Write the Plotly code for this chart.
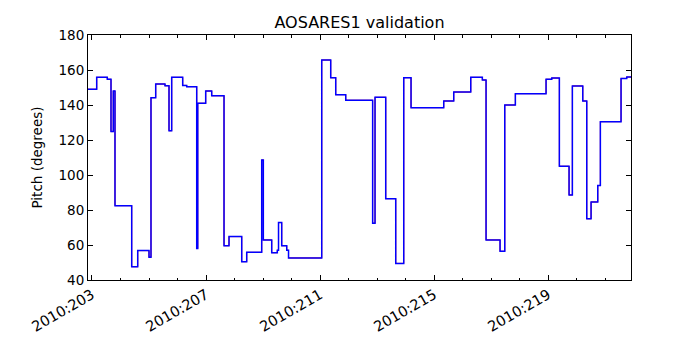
import plotly.graph_objects as go

# Day-of-year (2010) at which each pitch level starts
day = [202.86, 203.165, 203.537, 203.667, 203.747, 203.807, 204.393, 204.604,
       205.0, 205.070, 205.235, 205.561, 205.702, 205.796, 206.182, 206.323,
       206.674, 206.710, 206.989, 207.2, 207.632, 207.807, 208.253, 208.428,
       208.954, 209.011, 209.305, 209.502, 209.544, 209.656, 209.832, 209.895,
       211.060, 211.375, 211.551, 211.902, 212.846, 212.930, 213.305, 213.656,
       213.937, 214.193, 215.340, 215.691, 216.288, 216.695, 216.825, 217.316,
       217.481, 217.853, 218.930, 219.130, 219.397, 219.737, 219.853, 220.218,
       220.358, 220.509, 220.744, 220.835, 221.561, 221.761, 221.912]

# Measured pitch (blue)
pitch_blue = [149, 155.8, 154.7, 124.8, 148, 82.5, 47.6, 56.8,
              53, 144.2, 152, 151, 125.3, 155.8, 151.2, 150.5,
              58, 141, 148, 145.3, 59.6, 64.8, 50.5, 55.8,
              108.6, 62.9, 55.6, 57, 72.8, 59.6, 57, 52.6,
              165.7, 155.6, 145.9, 142.7, 72.4, 144.4, 86.5, 49.5,
              155.6, 138.5, 142.3, 147.4, 155.8, 154.3, 62.9, 56.4,
              140, 146.5, 154.7, 155.4, 105, 88.6, 150.9, 142.3,
              75, 84.6, 94, 130.5, 155.2, 156, 156]

# Reference pitch (red) - visually identical to the blue trace
pitch_red = [149, 155.8, 154.7, 124.8, 148, 82.5, 47.6, 56.8,
             53, 144.2, 152, 151, 125.3, 155.8, 151.2, 150.5,
             58, 141, 148, 145.3, 59.6, 64.8, 50.5, 55.8,
             108.6, 62.9, 55.6, 57, 72.8, 59.6, 57, 52.6,
             165.7, 155.6, 145.9, 142.7, 72.4, 144.4, 86.5, 49.5,
             155.6, 138.5, 142.3, 147.4, 155.8, 154.3, 62.9, 56.4,
             140, 146.5, 154.7, 155.4, 105, 88.6, 150.9, 142.3,
             75, 84.6, 94, 130.5, 155.2, 156, 156]

tick_vals = [203, 207, 211, 215, 219]
tick_text = ["2010:203", "2010:207", "2010:211", "2010:215", "2010:219"]

fig = go.Figure()
fig.add_trace(go.Scatter(x=day, y=pitch_red, mode="lines", line_shape="hv",
                         line=dict(color="red", width=1.0), showlegend=False))
fig.add_trace(go.Scatter(x=day, y=pitch_blue, mode="lines", line_shape="hv",
                         line=dict(color="blue", width=1.5), showlegend=False))

font = dict(family="DejaVu Sans", size=13, color="black")
fig.update_layout(
    width=700, height=350,
    margin=dict(l=88, r=69, t=35, b=70),
    paper_bgcolor="white", plot_bgcolor="white",
    font=font,
    title=dict(text="AOSARES1 validation", x=0.5, xref="paper", xanchor="center",
               y=1 - 22 / 350, yref="container", yanchor="middle",
               font=dict(family="DejaVu Sans", size=16, color="black")),
    xaxis=dict(range=[202.86, 221.91], tickmode="array", tickvals=tick_vals,
               ticktext=tick_text, tickangle=-30, ticks="inside", ticklen=5,
               tickcolor="black", showline=True, linecolor="black", linewidth=1,
               mirror="ticks", showgrid=False, zeroline=False,
               tickfont=dict(family="DejaVu Sans", size=14.5, color="black"),
               minor=dict(tick0=203, dtick=1, ticks="inside", ticklen=2.5,
                          tickcolor="black", showgrid=False)),
    yaxis=dict(range=[40, 180], dtick=20, ticks="inside", ticklen=5,
               tickcolor="black", showline=True, linecolor="black", linewidth=1,
               mirror="ticks", showgrid=False, zeroline=False,
               tickfont=dict(family="DejaVu Sans", size=13.5, color="black"),
               title=dict(text="Pitch (degrees)", standoff=12,
                          font=dict(family="DejaVu Sans", size=13.5, color="black"))),
)

fig.write_html("out.html")
